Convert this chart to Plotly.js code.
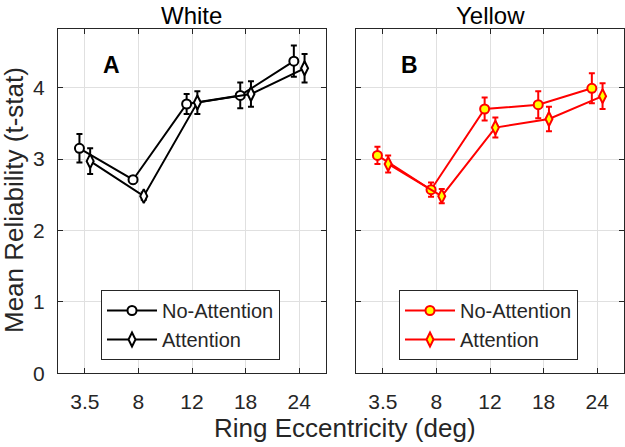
<!DOCTYPE html>
<html><head><meta charset="utf-8">
<script src="https://cdn.plot.ly/plotly-3.0.1.min.js"></script>
<style>body{margin:0;background:#fff}#plot{width:625px;height:447px}</style>
</head><body><div id="plot"></div>
<script>
const categories = ["3.5","8","12","18","24"];
const whiteNoAtt = [3.15, 2.71, 3.77, 3.89, 4.37];
const whiteNoAttErr = [0.20, 0.05, 0.14, 0.18, 0.22];
const whiteAtt = [2.97, 2.48, 3.79, 3.91, 4.27];
const whiteAttErr = [0.18, 0.05, 0.16, 0.18, 0.20];
const yellowNoAtt = [3.05, 2.57, 3.70, 3.76, 3.99];
const yellowNoAttErr = [0.12, 0.10, 0.16, 0.19, 0.21];
const yellowAtt = [2.93, 2.48, 3.44, 3.56, 3.88];
const yellowAttErr = [0.12, 0.10, 0.14, 0.17, 0.18];

const pos = categories.map((c,i)=>i+1);
const off = 0.1;
const font = "Liberation Sans, Arial, Helvetica, sans-serif";

function tr(y, err, dx, sym, col, fill, name, xa, ya, leg){
  return {
    x: pos.map(p=>p+dx), y: y, name: name, type:'scatter', mode:'lines+markers',
    xaxis: xa, yaxis: ya, legend: leg,
    line:{color:col, width:2},
    marker:{symbol:sym, size: sym==='circle'?9:10, color:fill, line:{color:col, width:2}},
    error_y:{type:'data', array:err, visible:true, color:col, thickness:2, width:3}
  };
}

const data = [
  tr(whiteNoAtt, whiteNoAttErr, -off, 'circle', '#000000', '#ffffff', 'No-Attention', 'x', 'y', 'legend'),
  tr(whiteAtt, whiteAttErr, off, 'diamond-tall', '#000000', '#ffffff', 'Attention', 'x', 'y', 'legend'),
  tr(yellowNoAtt, yellowNoAttErr, -off, 'circle', '#ff0000', '#ffff00', 'No-Attention', 'x2', 'y2', 'legend2'),
  tr(yellowAtt, yellowAttErr, off, 'diamond-tall', '#ff0000', '#ffff00', 'Attention', 'x2', 'y2', 'legend2')
];

const yDom = [1-373.3/447, 1-29/447];
const axBase = {
  showline:true, linecolor:'#262626', linewidth:1, mirror:'ticks',
  ticks:'inside', ticklen:5, tickcolor:'#262626',
  showgrid:true, gridcolor:'#e0e0e0', gridwidth:1, zeroline:false,
  tickfont:{family:font, size:21, color:'#262626'}
};
const xa = Object.assign({}, axBase, {range:[0.5,5.5], tickvals:pos, ticktext:categories, ticklabelstandoff:9});
const ya = Object.assign({}, axBase, {range:[0,4.82], tickvals:[0,1,2,3,4], ticklabelstandoff:8});

const legBase = {xanchor:'left', yanchor:'top', bgcolor:'#ffffff',
    bordercolor:'#262626', borderwidth:1, font:{family:font, size:20, color:'#262626'},
    itemwidth:50, tracegroupgap:0};

const layout = {
  width:625, height:447, margin:{l:0,r:0,t:0,b:0},
  paper_bgcolor:'#ffffff', plot_bgcolor:'#ffffff',
  showlegend:true,
  font:{family:font, color:'#262626'},
  xaxis: Object.assign({}, xa, {domain:[58/625, 326/625], anchor:'y'}),
  yaxis: Object.assign({}, ya, {domain:yDom, anchor:'x'}),
  xaxis2: Object.assign({}, xa, {domain:[356/625, 624/625], anchor:'y2'}),
  yaxis2: Object.assign({}, ya, {domain:yDom, anchor:'x2', showticklabels:false}),
  legend: Object.assign({}, legBase, {x:101/625, y:1-290/447}),
  legend2: Object.assign({}, legBase, {x:399/625, y:1-290/447}),
  annotations:[
    {text:'White', xref:'paper', yref:'paper', x:191/625, y:1, showarrow:false,
     font:{family:font, size:24, color:'#000'}, xanchor:'center', yanchor:'top'},
    {text:'Yellow', xref:'paper', yref:'paper', x:490/625, y:1, showarrow:false,
     font:{family:font, size:24, color:'#000'}, xanchor:'center', yanchor:'top'},
    {text:'<b>A</b>', xref:'paper', yref:'paper', x:111/625, y:1-65/447, showarrow:false,
     font:{family:font, size:23, color:'#000'}, xanchor:'center', yanchor:'middle'},
    {text:'<b>B</b>', xref:'paper', yref:'paper', x:409/625, y:1-65/447, showarrow:false,
     font:{family:font, size:23, color:'#000'}, xanchor:'center', yanchor:'middle'},
    {text:'Mean Reliability (t-stat)', xref:'paper', yref:'paper', x:14/625, y:1-200/447,
     showarrow:false, textangle:-90, font:{family:font, size:26, color:'#262626'},
     xanchor:'center', yanchor:'middle'},
    {text:'Ring Eccentricity (deg)', xref:'paper', yref:'paper', x:345/625, y:1-428/447,
     showarrow:false, font:{family:font, size:26, color:'#262626'},
     xanchor:'center', yanchor:'middle'}
  ]
};

Plotly.newPlot('plot', data, layout, {staticPlot:true});
</script></body></html>
